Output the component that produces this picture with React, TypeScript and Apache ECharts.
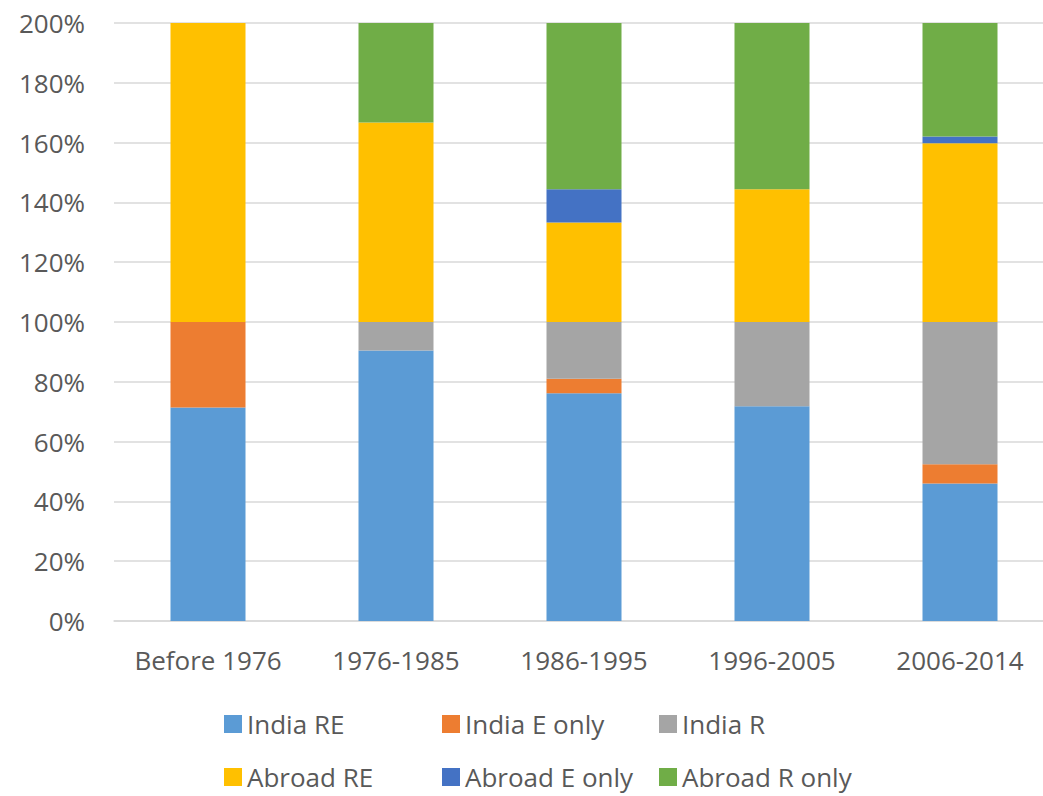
import React, { useEffect, useRef } from "react";
import * as echarts from "echarts";

const categories = ["Before 1976", "1976-1985", "1986-1995", "1996-2005", "2006-2014"];
const seriesNames = ["India RE", "India E only", "India R", "Abroad RE", "Abroad E only", "Abroad R only"];
const indiaRE = [71.4, 90.5, 76.2, 71.8, 46.0];
const indiaEOnly = [28.6, 0, 4.8, 0, 6.4];
const indiaR = [0, 9.5, 19.0, 28.2, 47.6];
const abroadRE = [100, 66.7, 33.3, 44.4, 59.8];
const abroadEOnly = [0, 0, 11.1, 0, 2.2];
const abroadROnly = [0, 33.3, 55.6, 55.6, 38.0];
const colors = ["#5B9BD5", "#ED7D31", "#A5A5A5", "#FFC000", "#4472C4", "#70AD47"];

const seriesValues = [indiaRE, indiaEOnly, indiaR, abroadRE, abroadEOnly, abroadROnly];

const legendLefts = [224, 442, 659];
const legendTops = [711, 764];

export default function App() {
  const ref = useRef<HTMLDivElement>(null);
  useEffect(() => {
    if (!ref.current) return;
    const chart = echarts.init(ref.current, null, { renderer: "svg" });
    const font = "'Open Sans', sans-serif";
    const option = {
      animation: false,
      color: colors,
      grid: { left: 114, top: 23, width: 940, height: 598, containLabel: false },
      xAxis: {
        type: "category",
        data: categories,
        axisLine: { lineStyle: { color: "#d9d9d9", width: 1.5 } },
        axisTick: { show: false },
        axisLabel: { color: "#595959", fontSize: 26, fontFamily: font, margin: 26, interval: 0 },
      },
      yAxis: {
        type: "value",
        min: 0,
        max: 200,
        interval: 20,
        axisLine: { show: false },
        axisTick: { show: false },
        splitLine: { lineStyle: { color: "#d9d9d9", width: 1.5 } },
        axisLabel: { color: "#595959", fontSize: 26, fontFamily: font, margin: 29, formatter: "{value}%" },
      },
      legend: seriesNames.map((name, i) => ({
        data: [name],
        left: legendLefts[i % 3],
        top: legendTops[Math.floor(i / 3)],
        icon: "rect",
        itemWidth: 18,
        itemHeight: 18,
        selectedMode: false,
        padding: 0,
        textStyle: { color: "#595959", fontSize: 26, fontFamily: font },
      })),
      series: seriesNames.map((name, i) => ({
        name,
        type: "bar",
        stack: "total",
        barWidth: 75,
        data: seriesValues[i],
        itemStyle: { color: colors[i] },
      })),
    };
    chart.setOption(option);
    return () => chart.dispose();
  }, []);
  return (
    <div style={{ position: "fixed", left: 0, top: 0, width: 1043, height: 796, overflow: "hidden", background: "#fff" }}>
      <div ref={ref} style={{ width: 1060, height: 796 }} />
    </div>
  );
}
